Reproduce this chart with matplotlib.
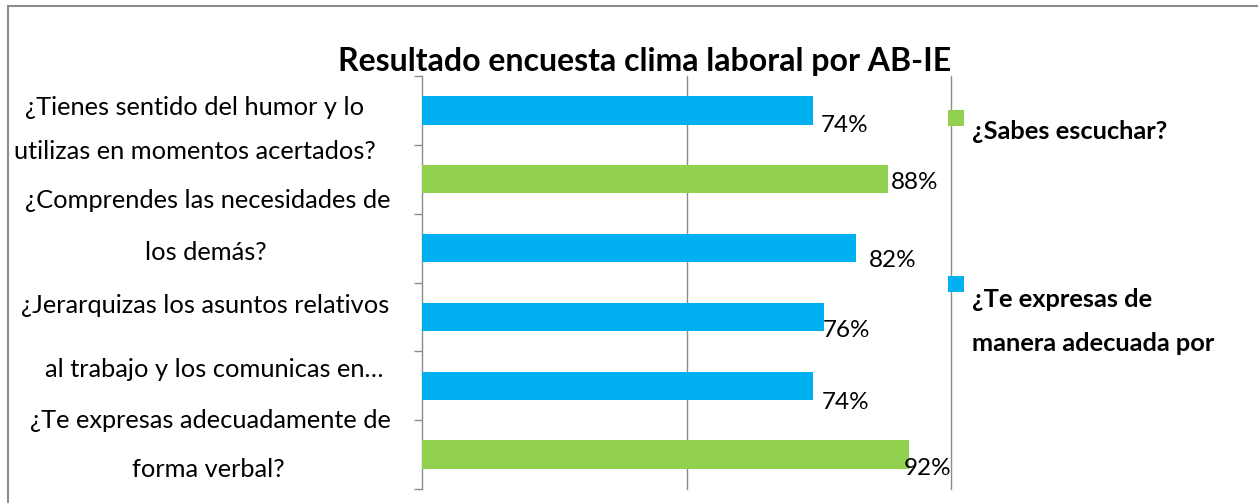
import matplotlib
matplotlib.use("Agg")
import matplotlib.pyplot as plt
from matplotlib.patches import Rectangle

plt.rcParams['font.family'] = ['Lato', 'DejaVu Sans']

# ---- data ----
title = "Resultado encuesta clima laboral por AB-IE"
values = [0.74, 0.88, 0.82, 0.76, 0.74, 0.92]          # top to bottom
value_labels = ["74%", "88%", "82%", "76%", "74%", "92%"]
bar_groups = ["blue", "green", "blue", "blue", "blue", "green"]
category_lines = [
    "¿Tienes sentido del humor y lo",
    "utilizas en momentos acertados?",
    "¿Comprendes las necesidades de",
    "los demás?",
    "¿Jerarquizas los asuntos relativos",
    "al trabajo y los comunicas en…",
    "¿Te expresas adecuadamente de",
    "forma verbal?",
]
legend_labels = ["¿Sabes escuchar?", "¿Te expresas de\nmanera adecuada por"]
grid_values = [0.5, 1.0]

# ---- style ----
W, H = 1258, 503
DPI = 100
colors = {"blue": "#00B0F0", "green": "#92D050"}
grid_col = "#8C8C8C"
FS = 18.3

fig = plt.figure(figsize=(W / DPI, H / DPI), dpi=DPI)
fig.patch.set_facecolor("white")

def fx(px):
    return px / W

def fy(py):
    return 1 - py / H

ax_l, ax_r, ax_t, ax_b = 422, 951, 76, 489
ax = fig.add_axes([fx(ax_l), fy(ax_b), (ax_r - ax_l) / W, (ax_b - ax_t) / H])

n = len(values)
ypos = list(range(n))
ax.barh(ypos, values, height=0.41, color=[colors[g] for g in bar_groups], zorder=3)
ax.set_xlim(0, 1.0)
ax.set_ylim(n - 0.5, -0.5)

# gridlines
for gv in grid_values:
    ax.axvline(gv, color=grid_col, linewidth=1.0, zorder=0, clip_on=False)
ax.set_xticks([])
ax.set_yticks([i - 0.5 for i in range(n + 1)])
ax.set_yticklabels([])
ax.tick_params(axis="y", length=6, color=grid_col, width=1.0)
for s in ["top", "right", "bottom"]:
    ax.spines[s].set_visible(False)
ax.spines["left"].set_color(grid_col)
ax.spines["left"].set_linewidth(1.0)

# data labels (offsets in pixels: dx from bar end, dy text center below bar center)
label_offsets = [(7, 15), (3, 3), (13, 12), (-1, 14), (8, 17), (-5, 14)]
for i, (v, t) in enumerate(zip(values, value_labels)):
    dx, dy = label_offsets[i]
    ax.annotate(t, xy=(v, i), xytext=(dx * 0.72, -dy * 0.72), textcoords="offset points",
                ha="left", va="center", fontsize=17.5, color="black", zorder=4)

# category label lines (center x, baseline y in pixels)
line_pos = [(195, 115), (195, 159), (208, 208), (206, 260),
            (205, 313), (214, 377), (210, 428), (208, 477)]
for txt, (cx, by) in zip(category_lines, line_pos):
    fig.text(fx(cx), fy(by), txt, ha="center", va="baseline", fontsize=FS, color="black")

# title
fig.text(fx(645), fy(71), title, ha="center", va="baseline", fontsize=23,
         fontweight="bold", color="black")

# legend
leg_items = [("green", 110, [139]), ("blue", 276, [307, 351])]
for (g, sq_top, baselines), lab in zip(leg_items, legend_labels):
    fig.patches.append(Rectangle((fx(948), fy(sq_top + 16)), 16 / W, 16 / H,
                                 transform=fig.transFigure, facecolor=colors[g],
                                 edgecolor="none", zorder=5))
    for line, b in zip(lab.split("\n"), baselines):
        fig.text(fx(972), fy(b), line, ha="left", va="baseline", fontsize=FS,
                 fontweight="bold", color="black")

# outer chart border (extends beyond right/bottom)
fig.patches.append(Rectangle((fx(7.5), fy(520)), (1300 - 7.5) / W, (520 - 5.5) / H,
                             transform=fig.transFigure, facecolor="none",
                             edgecolor="#8C8C8C", linewidth=1.5))

fig.savefig("out.png", dpi=DPI)
